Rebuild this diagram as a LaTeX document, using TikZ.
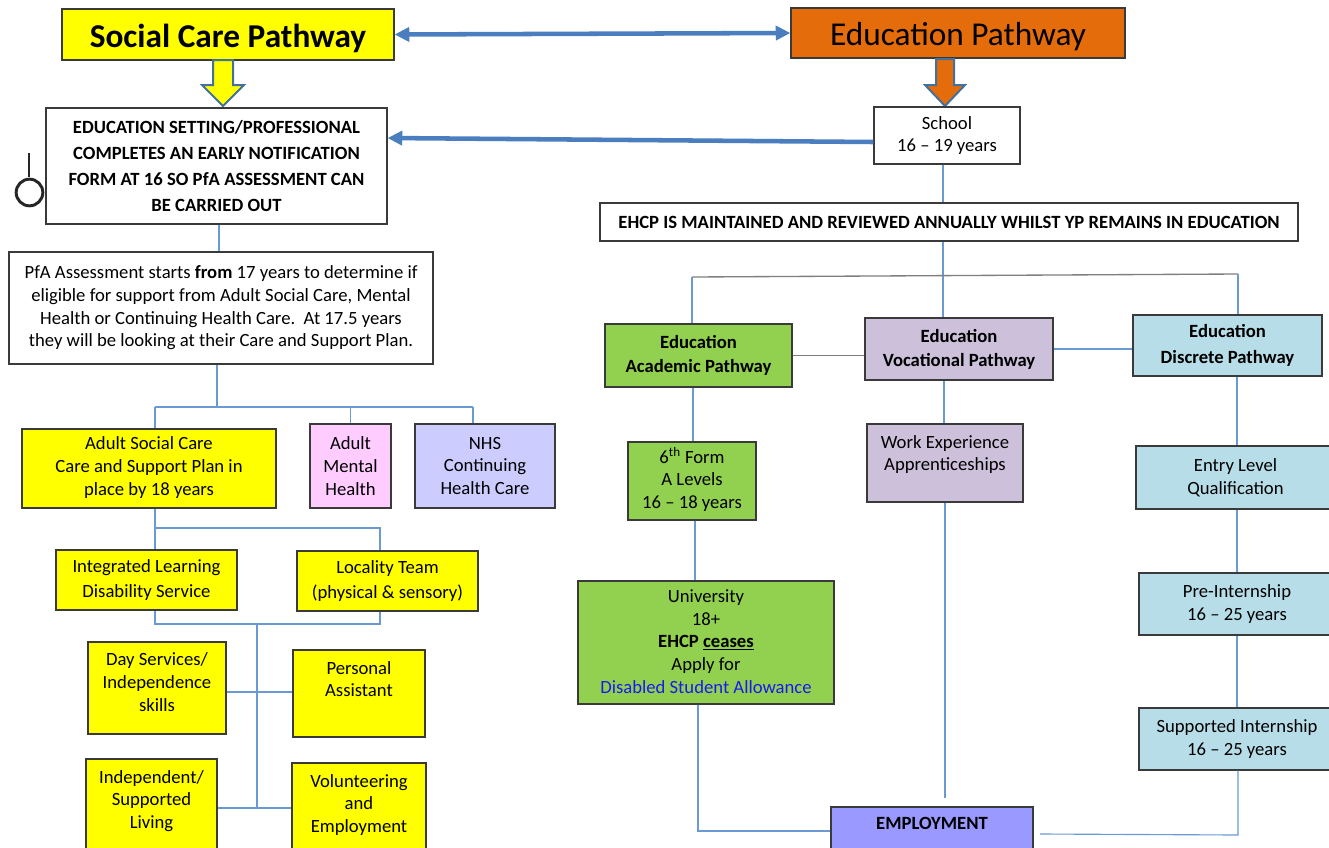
\documentclass[tikz,border=0pt]{standalone}
\usepackage{fontspec}
\setmainfont{Carlito}
\usetikzlibrary{arrows.meta,calc}
\definecolor{yel}{HTML}{FFFF00}
\definecolor{org}{HTML}{E46C0A}
\definecolor{grn}{HTML}{92D050}
\definecolor{lil}{HTML}{CCC0DA}
\definecolor{lbl}{HTML}{B7DEE8}
\definecolor{pnk}{HTML}{FFCCFF}
\definecolor{peri}{HTML}{CCCCFF}
\definecolor{empc}{HTML}{9999FF}
\definecolor{bordc}{HTML}{3A3A3A}
\definecolor{linec}{HTML}{6A9AD4}
\definecolor{greyc}{HTML}{7F7F7F}
\definecolor{arrc}{HTML}{4A7EBF}
\definecolor{outc}{HTML}{41719C}
\definecolor{dsa}{HTML}{1A1AF0}
\newcommand{\fsn}{\fontsize{14}{17}\selectfont}
\newcommand{\fsb}{\fontsize{14}{17}\selectfont\bfseries}
\newcommand{\fst}{\fontsize{25}{30}\selectfont}
\newcommand{\tpbox}[3]{\parbox[c][#2][t]{#1}{\centering\strut #3}}
% box node from pixel corners: [options]{name}{x1}{y1}{x2}{y2}{text}
\newcommand{\bxn}[7][]{%
  \pgfmathsetmacro\bcx{(#3+#5)/2}\pgfmathsetmacro\bcy{(#4+#6)/2}%
  \pgfmathsetmacro\bww{(#5-#3)*0.75}\pgfmathsetmacro\bhh{(#6-#4)*0.75}%
  \node[bx,#1,minimum width=\bww pt,minimum height=\bhh pt] (#2) at (\bcx,\bcy) {#7};}
\tikzset{
  bx/.style={draw=bordc, line width=0.9pt, inner sep=0pt, align=center, font=\fsn},
  cn/.style={draw=linec, line width=0.85pt},
  gcn/.style={draw=greyc, line width=1pt},
  bigarrow/.style={draw=arrc, line width=3.4pt, -{Triangle[length=11pt,width=10.5pt]}},
  blockarrow/.style={draw=outc, line width=1.5pt, line join=miter}
}
\begin{document}
\begin{tikzpicture}[x=0.75pt, y=-0.75pt]
\clip (0,0) rectangle (1329,847);
\fill[white] (0,0) rectangle (1329,847);

% titles
\bxn[fill=yel, font=\fst\bfseries]{scp}{62}{9}{394}{60}{\raisebox{-3pt}[\height][\depth]{Social Care Pathway}}
\bxn[fill=org, font=\fst]{edp}{791}{8}{1125}{58}{\raisebox{-3pt}[\height][\depth]{Education Pathway}}

% block arrows
\filldraw[blockarrow, fill=yel] (213,60) -- (213,85) -- (202,85) -- (223,106) -- (244,85) -- (233,85) -- (233,60) -- cycle;
\filldraw[blockarrow, fill=org] (936,59) -- (936,85) -- (925,85) -- (945,106) -- (965,85) -- (954,85) -- (954,59) -- cycle;

% social care column
\bxn[font=\fontsize{14}{19.5}\selectfont\bfseries]{notif}{46}{108}{387}{224}
  {EDUCATION SETTING/PROFESSIONAL\\COMPLETES AN EARLY NOTIFICATION\\FORM AT 16 SO PfA ASSESSMENT CAN\\BE CARRIED OUT}
\bxn{pfa}{9}{252}{433}{364}
  {PfA Assessment starts \textbf{from} 17 years to determine if\\eligible for support from Adult Social Care, Mental\\Health or Continuing Health Care.\ \ At 17.5 years\\they will be looking at their Care and Support Plan.}
\bxn[fill=yel]{asc}{22}{429}{276}{508}{\tpbox{180pt}{52pt}{Adult Social Care\\Care and Support Plan in\\place by 18 years}}
\bxn[fill=pnk]{amh}{310}{424}{391}{508}{Adult\\Mental\\Health}
\bxn[fill=peri]{nhs}{415}{424}{555}{508}{NHS\\Continuing\\Health Care}
\bxn[fill=yel, font=\fontsize{14}{19}\selectfont]{ilds}{56}{550}{237}{610}{Integrated Learning\\Disability Service}
\bxn[fill=yel, font=\fontsize{14}{19}\selectfont]{loc}{297}{551}{478}{611}{Locality Team\\(physical \& sensory)}
\bxn[fill=yel]{day}{88}{642}{226}{734}{\tpbox{95pt}{57pt}{Day Services/\\Independence\\skills}}
\bxn[fill=yel]{pa}{293}{650}{425}{737}{\tpbox{90pt}{53pt}{Personal\\Assistant}}
\bxn[fill=yel]{isl}{86}{759}{217}{862}{\tpbox{90pt}{65pt}{Independent/\\Supported\\Living}}
\bxn[fill=yel]{vol}{292}{763}{426}{862}{\tpbox{90pt}{62pt}{Volunteering\\and\\Employment}}

% circle symbol
\draw[line width=2.2pt, draw=black!85] (29,153) -- (29,177);
\draw[line width=2.2pt, draw=black!85] (29.5,192.5) circle[radius=10pt];

% education column
\bxn{school}{874}{107}{1020}{164}{School\\16 – 19 years}
\bxn[font=\fsb]{ehcp}{600}{203}{1298}{241}{EHCP IS MAINTAINED AND REVIEWED ANNUALLY WHILST YP REMAINS IN EDUCATION}
\bxn[fill=grn, font=\fontsize{14}{18}\selectfont\bfseries]{acad}{605}{324}{792}{387}{Education\\Academic Pathway}
\bxn[fill=lil, font=\fontsize{14}{18}\selectfont\bfseries]{voc}{865}{318}{1053}{380}{Education\\Vocational Pathway}
\bxn[fill=lbl, font=\fontsize{14}{19.5}\selectfont\bfseries]{disc}{1133}{315}{1322}{376}{Education\\Discrete Pathway}
\bxn[fill=grn]{sixth}{628}{442}{756}{520}{\tpbox{90pt}{51pt}{6\textsuperscript{th} Form\\A Levels\\16 – 18 years}}
\bxn[fill=lil]{work}{867}{424}{1023}{502}{\tpbox{110pt}{46pt}{Work Experience\\Apprenticeships}}
\bxn[fill=grn]{uni}{578}{581}{834}{704}{\tpbox{185pt}{84pt}{University\\18+\\\textbf{EHCP \underline{ceases}}\\Apply for\\\textcolor{dsa}{Disabled Student Allowance}}}
\bxn[fill=empc]{emp}{831}{807}{1033}{870}{\tpbox{140pt}{37pt}{\textbf{EMPLOYMENT}}}
\bxn[fill=lbl]{entry}{1136}{446}{1335}{509}{Entry Level\\Qualification}
\bxn[fill=lbl]{pre}{1139}{573}{1335}{635}{Pre-Internship\\16 – 25 years}
\bxn[fill=lbl]{sup}{1139}{708}{1335}{770}{Supported Internship\\16 – 25 years}

% thick arrows
\draw[draw=arrc, line width=3.4pt, {Triangle[length=11pt,width=10.5pt]}-{Triangle[length=11pt,width=10.5pt]}] (scp.east) -- (edp.west);
\draw[bigarrow] (school.west |- 0,142) -- (notif.east |- 0,138);

% junction coordinates
\coordinate (ja) at (155,407);
\coordinate (jb) at (473,407);
\coordinate (jc) at (155,528);
\coordinate (jd) at (380,528);
\coordinate (je) at (155,624);
\coordinate (jf) at (380,624);
\coordinate (jg) at (257,624);
\coordinate (jh) at (257,808);
\coordinate (ji) at (257,692);
\coordinate (jk) at (943,276);
\coordinate (jl) at (692,277);
\coordinate (jr) at (1238,274);
\coordinate (jm) at (698,831);
\coordinate (jn) at (945,798);
\coordinate (jo) at (1238,835);
\coordinate (jp) at (1040,834);

% social care connectors
\draw[cn] (notif.south -| 219,0) -- (pfa.north -| 219,0);
\draw[cn] (pfa.south -| 217,0) -- (ja -| 217,0);
\draw[cn] (ja) -- (jb);
\draw[cn] (ja) -- (ja |- asc.north);
\draw[cn] (amh.north |- ja) -- (amh.north);
\draw[cn] (jb) -- (jb |- nhs.north);
\draw[cn] (jc |- asc.south) -- (jc |- ilds.north);
\draw[cn] (jc) -- (jd) -- (jd |- loc.north);
\draw[cn] (je |- ilds.south) -- (je) -- (jf) -- (jf |- loc.south);
\draw[cn] (jg) -- (jh);
\draw[cn] (day.east |- ji) -- (pa.west |- ji);
\draw[cn] (isl.east |- jh) -- (vol.west |- jh);

% education connectors
\draw[cn] (school.south -| jk) -- (ehcp.north -| jk);
\draw[cn] (ehcp.south -| jk) -- (voc.north -| jk);
\draw[gcn] (jl) -- (jr);
\draw[cn] (jl) -- (jl |- acad.north);
\draw[cn] (jr) -- (jr |- disc.north);
\draw[gcn] (acad.east) -- (acad.east -| voc.west);
\draw[cn] (voc.east) -- (voc.east -| disc.west);
\draw[cn] (acad.south -| 693,0) -- (sixth.north -| 693,0);
\draw[cn] (voc.south -| 944,0) -- (work.north -| 944,0);
\draw[cn] (sixth.south -| 695,0) -- (uni.north -| 695,0);
\draw[cn] (uni.south -| jm) -- (jm) -- (jm -| emp.west);
\draw[cn] (work.south -| jn) -- (jn);
\draw[cn] (disc.south -| 1237,0) -- (entry.north -| 1237,0);
\draw[cn] (entry.south -| 1237,0) -- (pre.north -| 1237,0);
\draw[cn] (pre.south -| 1237,0) -- (sup.north -| 1237,0);
\draw[cn] (sup.south -| jo) -- (jo) -- (jp);
\end{tikzpicture}
\end{document}
